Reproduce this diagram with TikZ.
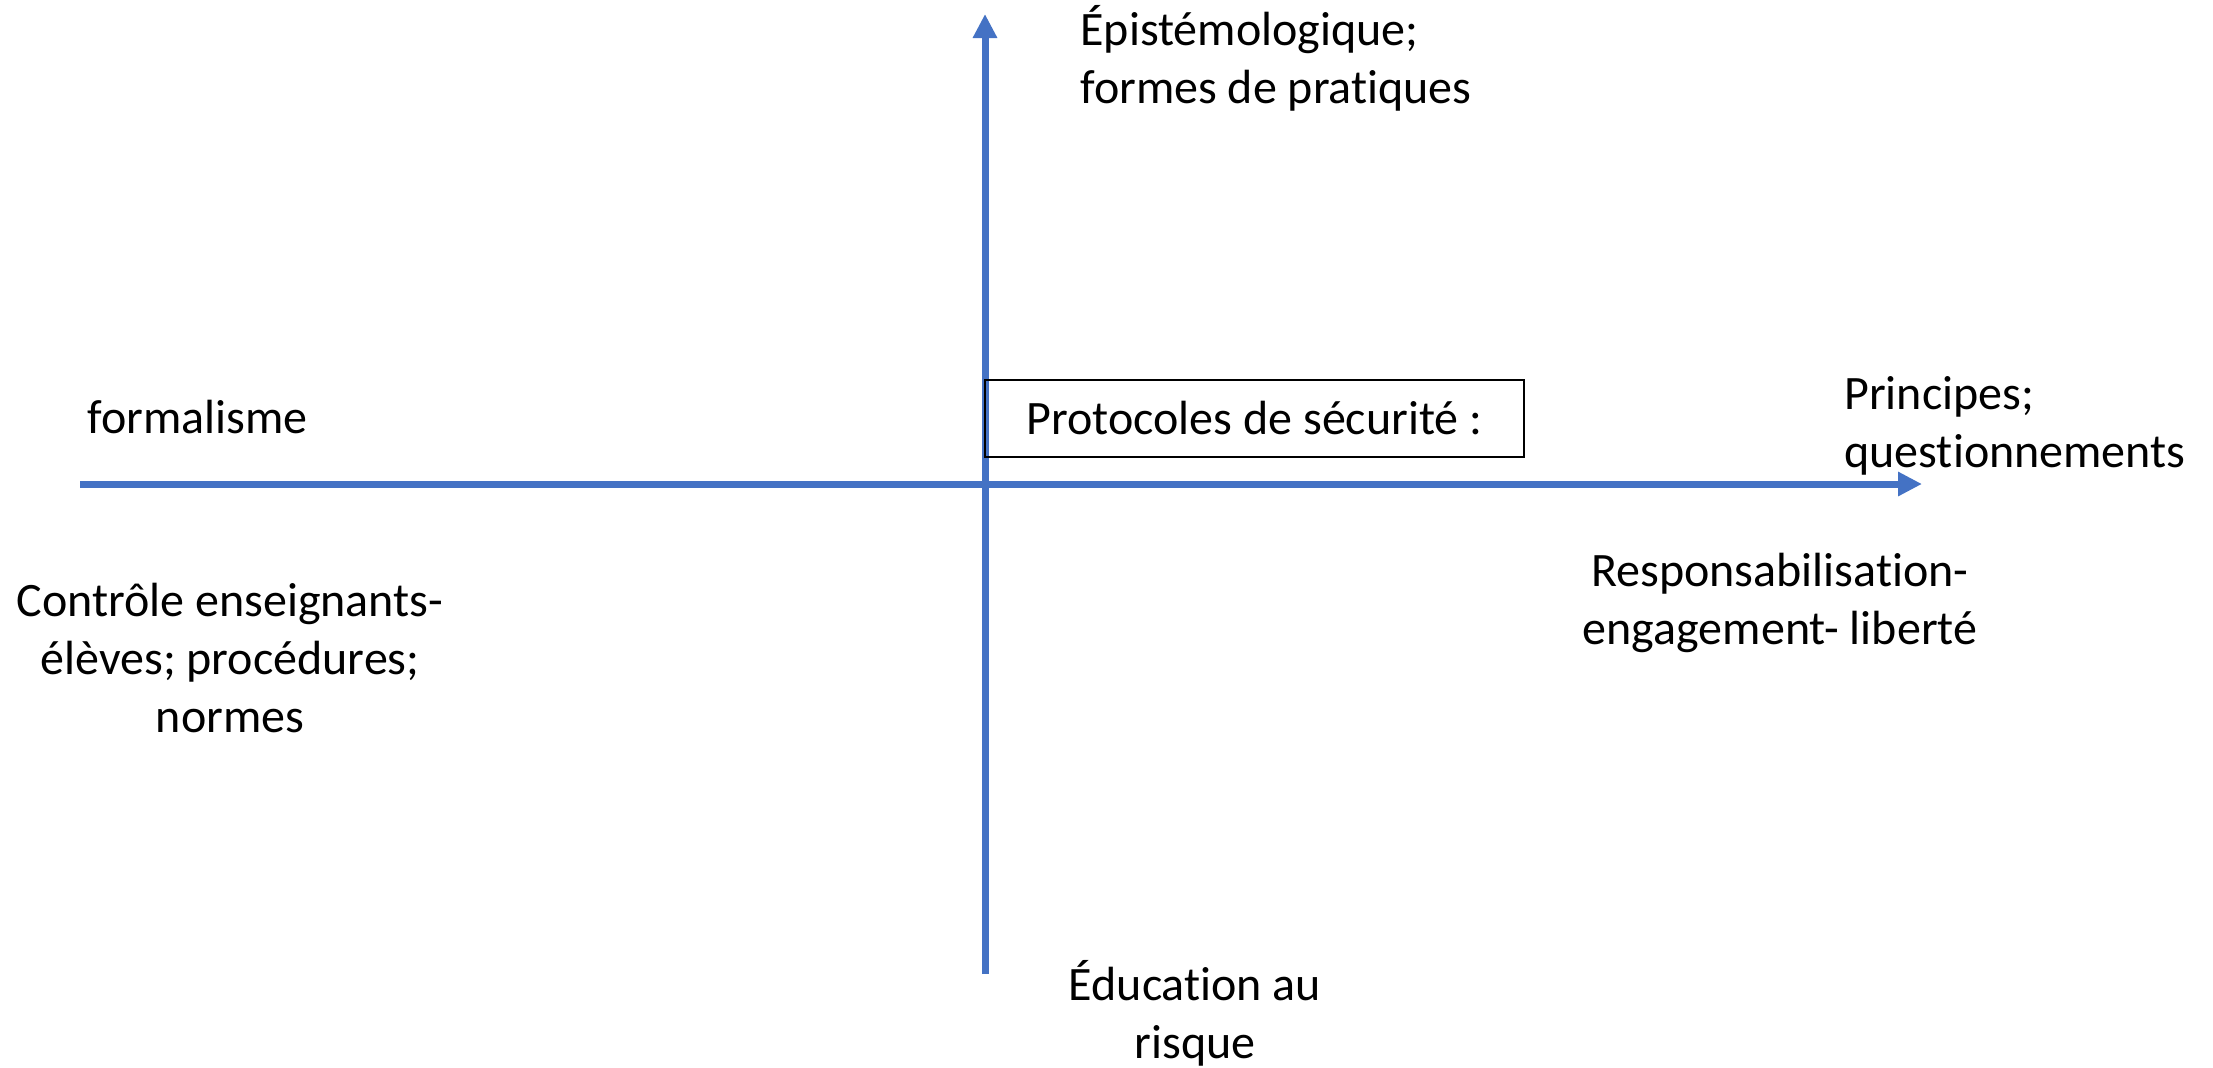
\documentclass[tikz,border=0pt]{standalone}
\usepackage{fontspec}
\setmainfont[Ligatures={NoCommon}]{Carlito}
\usetikzlibrary{arrows.meta}
\definecolor{axisblue}{HTML}{4472C4}
\tikzset{
  axis/.style={draw=axisblue, line width=3.5pt, -{Triangle[length=12pt,width=11.5pt]}},
  lbl/.style={inner sep=0pt, font=\fontsize{24}{29}\selectfont},
  framed/.style={lbl, draw, line width=0.8pt, minimum width=269.5pt, minimum height=38.5pt},
}
\begin{document}
\begin{tikzpicture}[x=0.5pt,y=-0.5pt]
	\useasboundingbox (0,0) rectangle (2213,1067);
	
	% axes
	\coordinate (xl) at (80,484);
	\coordinate (xr) at (1922,484);
	\coordinate (yb) at (985,974);
	\coordinate (yt) at (985,14);
	
	\draw[axis] (xl) -- (xr);
	\draw[axis] (yb) -- (yt);
	
	\node[framed] (proto) at (1254.5,418.5) {Protocoles de sécurité :};
	
	% labels (base = last line)
	\node[lbl, align=left, anchor=base west] (epist) at (1080,103) {Épistémologique;\\formes de pratiques};
	\node[lbl, anchor=base west] (formal) at (87,433) {formalisme};
	\node[lbl, align=left, anchor=base west] (princ) at (1844,467) {Principes;\\questionnements};
	\node[lbl, align=center, anchor=base] (respo) at (1780,644) {Responsabilisation-\\engagement- liberté};
	\node[lbl, align=center, anchor=base] (contr) at (230,732) {Contrôle enseignants-\\élèves; procédures;\\normes};
	\node[lbl, align=center, anchor=base] (educ) at (1195,1058) {Éducation au\\risque};
	
\end{tikzpicture}
\end{document}
